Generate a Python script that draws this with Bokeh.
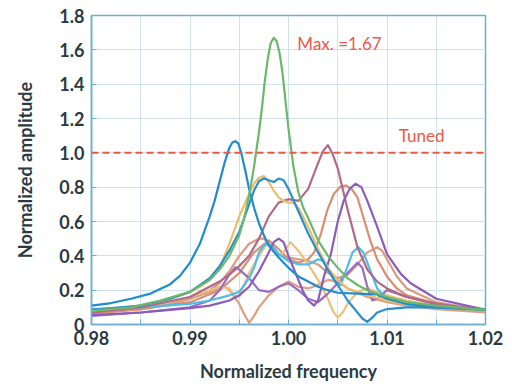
from bokeh.plotting import figure
from bokeh.models import Range1d, FixedTicker, Span, Label
from bokeh.embed import file_html
from bokeh.resources import INLINE

# ---- data ----
f_green = [0.980, 0.984, 0.987, 0.990, 0.992, 0.993, 0.994, 0.995, 0.9955, 0.996, 0.9965, 0.997, 0.9973, 0.9976,
           0.9979, 0.9982, 0.9985, 0.9988, 0.9991, 0.9994, 0.9997, 1.000, 1.0005, 1.001, 1.0015, 1.002, 1.003,
           1.004, 1.005, 1.006, 1.007, 1.008, 1.010, 1.012, 1.015, 1.020]
a_green = [0.08, 0.10, 0.14, 0.19, 0.26, 0.32, 0.40, 0.52, 0.62, 0.75, 0.92, 1.12, 1.26, 1.42,
           1.55, 1.64, 1.67, 1.65, 1.58, 1.46, 1.30, 1.14, 0.92, 0.77, 0.68, 0.62, 0.49,
           0.40, 0.33, 0.27, 0.23, 0.20, 0.16, 0.13, 0.11, 0.085]

f_blue1 = [0.980, 0.982, 0.984, 0.986, 0.988, 0.989, 0.990, 0.991, 0.992, 0.9925, 0.993, 0.9935, 0.994, 0.9943,
           0.9946, 0.9949, 0.9952, 0.9956, 0.996, 0.9965, 0.997, 0.9975, 0.998, 0.999, 1.000, 1.001, 1.002,
           1.003, 1.004, 1.005, 1.007, 1.009, 1.010, 1.012, 1.015, 1.020]
a_blue1 = [0.11, 0.125, 0.15, 0.18, 0.235, 0.285, 0.36, 0.47, 0.63, 0.72, 0.83, 0.94, 1.03, 1.06,
           1.068, 1.055, 1.00, 0.90, 0.79, 0.68, 0.59, 0.52, 0.46, 0.39, 0.33, 0.28, 0.25,
           0.22, 0.20, 0.185, 0.18, 0.175, 0.15, 0.12, 0.10, 0.085]

f_blue2 = [0.980, 0.985, 0.988, 0.990, 0.992, 0.993, 0.994, 0.995, 0.9955, 0.996, 0.9965, 0.997, 0.9975, 0.998,
           0.9985, 0.999, 0.9995, 1.000, 1.001, 1.002, 1.003, 1.004, 1.005, 1.006, 1.007, 1.0075, 1.008, 1.0085,
           1.009, 1.010, 1.012, 1.015, 1.020]
a_blue2 = [0.085, 0.11, 0.15, 0.19, 0.27, 0.34, 0.43, 0.54, 0.62, 0.70, 0.78, 0.835, 0.85, 0.84,
           0.83, 0.85, 0.84, 0.79, 0.66, 0.53, 0.42, 0.32, 0.23, 0.14, 0.07, 0.035, 0.015, 0.04,
           0.07, 0.09, 0.10, 0.10, 0.09]

f_cyan = [0.980, 0.985, 0.990, 0.992, 0.994, 0.995, 0.996, 0.9965, 0.997, 0.9975, 0.998, 0.9985, 0.999, 1.000,
          1.001, 1.002, 1.003, 1.0035, 1.004, 1.0048, 1.0053, 1.006, 1.0065, 1.0071, 1.0076, 1.008, 1.009,
          1.010, 1.012, 1.015, 1.020]
a_cyan = [0.09, 0.10, 0.12, 0.14, 0.17, 0.19, 0.27, 0.33, 0.42, 0.46, 0.47, 0.45, 0.41, 0.37,
          0.35, 0.35, 0.38, 0.37, 0.32, 0.24, 0.23, 0.34, 0.42, 0.45, 0.42, 0.36, 0.21,
          0.15, 0.12, 0.10, 0.08]

f_yellow1 = [0.980, 0.985, 0.988, 0.990, 0.991, 0.992, 0.993, 0.994, 0.995, 0.996, 0.9965, 0.997, 0.9975, 0.998,
             0.9985, 0.999, 0.9995, 1.000, 1.0005, 1.001, 1.002, 1.003, 1.004, 1.005, 1.006, 1.008, 1.010, 1.012,
             1.015, 1.020]
a_yellow1 = [0.08, 0.11, 0.15, 0.19, 0.22, 0.26, 0.33, 0.47, 0.63, 0.76, 0.82, 0.855, 0.865, 0.83,
             0.78, 0.74, 0.72, 0.71, 0.71, 0.68, 0.57, 0.44, 0.33, 0.26, 0.21, 0.17, 0.14, 0.12,
             0.10, 0.08]

f_yellow2 = [0.980, 0.985, 0.988, 0.990, 0.992, 0.993, 0.994, 0.9945, 0.995, 0.996, 0.997, 0.9978, 0.9985, 0.999,
             0.9995, 1.0002, 1.001, 1.002, 1.003, 1.004, 1.0045, 1.005, 1.0055, 1.006, 1.007, 1.008, 1.010, 1.012,
             1.015, 1.020]
a_yellow2 = [0.075, 0.10, 0.13, 0.16, 0.20, 0.22, 0.21, 0.17, 0.16, 0.30, 0.40, 0.47, 0.43, 0.40,
             0.42, 0.48, 0.43, 0.35, 0.26, 0.15, 0.08, 0.04, 0.07, 0.12, 0.19, 0.21, 0.17, 0.14,
             0.11, 0.08]

f_salmon1 = [0.980, 0.985, 0.988, 0.990, 0.992, 0.993, 0.9935, 0.994, 0.995, 0.9955, 0.996, 0.9965, 0.997, 0.998,
             0.999, 1.000, 1.001, 1.002, 1.003, 1.004, 1.005, 1.006, 1.008, 1.010, 1.012, 1.015, 1.020]
a_salmon1 = [0.07, 0.09, 0.12, 0.15, 0.19, 0.21, 0.22, 0.20, 0.12, 0.06, 0.01, 0.05, 0.10, 0.17,
             0.22, 0.25, 0.22, 0.21, 0.23, 0.26, 0.25, 0.21, 0.16, 0.13, 0.11, 0.09, 0.07]

f_salmon2 = [0.980, 0.985, 0.988, 0.990, 0.992, 0.993, 0.994, 0.995, 0.996, 0.997, 0.9975, 0.998, 0.999, 1.000,
             1.001, 1.002, 1.003, 1.004, 1.005, 1.006, 1.007, 1.008, 1.009, 1.0095, 1.010, 1.011, 1.012, 1.015,
             1.020]
a_salmon2 = [0.065, 0.09, 0.12, 0.15, 0.20, 0.24, 0.31, 0.40, 0.47, 0.50, 0.50, 0.47, 0.41, 0.39,
             0.38, 0.37, 0.35, 0.30, 0.27, 0.29, 0.35, 0.42, 0.45, 0.43, 0.38, 0.28, 0.21, 0.13,
             0.08]

f_salmon3 = [0.980, 0.985, 0.990, 0.993, 0.995, 0.9965, 0.998, 0.999, 1.000, 1.001, 1.002, 1.0026, 1.0033, 1.0039,
             1.0046, 1.0052, 1.0058, 1.0064, 1.007, 1.0076, 1.0083, 1.009, 1.010, 1.011, 1.012, 1.015, 1.020]
a_salmon3 = [0.065, 0.09, 0.13, 0.20, 0.30, 0.42, 0.49, 0.44, 0.38, 0.36, 0.38, 0.42, 0.53, 0.66,
             0.76, 0.80, 0.81, 0.79, 0.74, 0.625, 0.49, 0.38, 0.28, 0.21, 0.17, 0.12, 0.08]

f_mauve = [0.980, 0.985, 0.990, 0.993, 0.994, 0.995, 0.996, 0.997, 0.998, 0.999, 1.000, 1.001, 1.002, 1.003,
           1.0035, 1.004, 1.0045, 1.005, 1.0055, 1.006, 1.0065, 1.007, 1.008, 1.009, 1.010, 1.012, 1.015, 1.020]
a_mauve = [0.07, 0.10, 0.16, 0.25, 0.29, 0.34, 0.40, 0.50, 0.63, 0.71, 0.73, 0.72, 0.79, 0.94,
           1.01, 1.045, 0.99, 0.91, 0.79, 0.67, 0.56, 0.45, 0.32, 0.25, 0.21, 0.16, 0.12, 0.08]

f_purple1 = [0.980, 0.985, 0.988, 0.990, 0.992, 0.994, 0.995, 0.996, 0.997, 0.998, 0.9985, 0.999, 0.9995, 1.000,
             1.001, 1.0015, 1.002, 1.0026, 1.003, 1.0036, 1.0043, 1.005, 1.0056, 1.0062, 1.0068, 1.0074,
             1.008, 1.009, 1.010, 1.0114, 1.0124, 1.015, 1.020]
a_purple1 = [0.055, 0.07, 0.085, 0.095, 0.11, 0.14, 0.17, 0.22, 0.31, 0.42, 0.48, 0.50, 0.48, 0.40,
             0.26, 0.19, 0.14, 0.11, 0.14, 0.28, 0.41, 0.60, 0.72, 0.79, 0.82, 0.80,
             0.72, 0.57, 0.41, 0.295, 0.24, 0.15, 0.085]

f_purple2 = [0.980, 0.985, 0.990, 0.992, 0.993, 0.994, 0.9946, 0.995, 0.996, 0.997, 0.998, 0.999, 1.000, 1.001,
             1.002, 1.003, 1.004, 1.005, 1.006, 1.007, 1.0075, 1.008, 1.0085, 1.009, 1.010, 1.012, 1.015, 1.020]
a_purple2 = [0.05, 0.07, 0.10, 0.14, 0.20, 0.29, 0.334, 0.32, 0.27, 0.20, 0.19, 0.22, 0.24, 0.20,
             0.15, 0.13, 0.18, 0.24, 0.30, 0.36, 0.33, 0.22, 0.14, 0.15, 0.20, 0.16, 0.12, 0.08]

x_ticks = [0.98, 0.99, 1.00, 1.01, 1.02]
x_tick_labels = ["0.98", "0.99", "1.00", "1.01", "1.02"]
x_minor = [0.985, 0.995, 1.005, 1.015]
y_ticks = [0, 0.2, 0.4, 0.6, 0.8, 1.0, 1.2, 1.4, 1.6, 1.8]
y_tick_labels = ["0", "0.2", "0.4", "0.6", "0.8", "1.0", "1.2", "1.4", "1.6", "1.8"]
tuned_level = 1.0
max_value = 1.67

FONT = "Lato"
TXT = "#2b3a42"
FRAME = "#6aaed0"
GRID = "#cfe2ec"
RED = "#ec5a46"

p = figure(width=512, height=391, output_backend="svg", toolbar_location=None,
           x_range=Range1d(0.98, 1.02), y_range=Range1d(0, 1.8),
           min_border_left=91, min_border_right=27, min_border_top=15, min_border_bottom=67)
p.background_fill_color = "white"
p.border_fill_color = "white"
p.outline_line_color = FRAME
p.outline_line_width = 1.5

p.xaxis.ticker = FixedTicker(ticks=x_ticks, minor_ticks=x_minor)
p.xaxis.major_label_overrides = {t: l for t, l in zip(x_ticks, x_tick_labels)}
p.yaxis.ticker = FixedTicker(ticks=y_ticks)
p.yaxis.major_label_overrides = {t: l for t, l in zip(y_ticks, y_tick_labels)}

for ax in (p.xaxis[0], p.yaxis[0]):
    ax.axis_line_color = FRAME
    ax.axis_line_width = 1.5
    ax.major_tick_line_color = FRAME
    ax.minor_tick_line_color = FRAME
    ax.major_tick_in = 5
    ax.major_tick_out = 0
    ax.minor_tick_in = 5
    ax.minor_tick_out = 0
    ax.major_label_text_font = FONT
    ax.major_label_text_font_size = "18px"
    ax.major_label_text_color = TXT
    ax.major_label_text_font_style = "bold"
    ax.axis_label_text_font = FONT
    ax.axis_label_text_font_size = "18px"
    ax.axis_label_text_font_style = "bold"
    ax.axis_label_text_color = TXT
p.yaxis.minor_tick_in = 0
p.xaxis.axis_label = "Normalized frequency"
p.yaxis.axis_label = "Normalized amplitude"
p.xaxis.major_label_standoff = 6
p.yaxis.major_label_standoff = 7
p.xaxis.axis_label_standoff = 12
p.yaxis.axis_label_standoff = 20

p.xgrid.grid_line_color = GRID
p.xgrid.minor_grid_line_color = GRID
p.ygrid.grid_line_color = GRID
p.xgrid.grid_line_width = 1
p.ygrid.grid_line_width = 1

curves = [
    (f_salmon1, a_salmon1, "#dd9f84"),
    (f_salmon2, a_salmon2, "#dc9a7c"),
    (f_salmon3, a_salmon3, "#d98e70"),
    (f_yellow2, a_yellow2, "#e9c37c"),
    (f_purple2, a_purple2, "#9a6cc0"),
    (f_cyan, a_cyan, "#4ebde9"),
    (f_mauve, a_mauve, "#b06a86"),
    (f_purple1, a_purple1, "#8c5cbc"),
    (f_yellow1, a_yellow1, "#e8bd6e"),
    (f_blue1, a_blue1, "#1f8ccd"),
    (f_blue2, a_blue2, "#2a90cc"),
    (f_green, a_green, "#6cb86a"),
]
for fx, ay, col in curves:
    p.line(fx, ay, line_color=col, line_width=2.2, line_join="round")

p.add_layout(Span(location=tuned_level, dimension="width", line_color=RED,
                  line_dash="7 4", line_width=2))

p.add_layout(Label(x=1.0009, y=1.637, text="Max. =%.2f" % max_value, text_font=FONT,
                   text_font_size="17px", text_color=RED, text_baseline="middle"))
p.add_layout(Label(x=1.0112, y=1.10, text="Tuned", text_font=FONT,
                   text_font_size="17px", text_color=RED, text_baseline="middle"))

open("out.html", "w").write(file_html(p, INLINE))
